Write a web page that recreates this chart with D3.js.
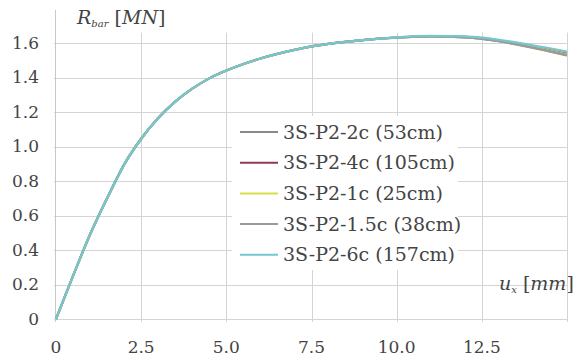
<!DOCTYPE html>
<html>
<head>
<meta charset="utf-8">
<script src="https://cdn.jsdelivr.net/npm/d3@7"></script>
<style>
  body { margin: 0; background: #fff; }
</style>
</head>
<body>
<div id="chart"></div>
<script>
// displacement u_x [mm]
var ux = [0, 0.5, 1.0, 1.5, 2.0, 2.5, 3.0, 3.5, 4.0, 4.5, 5.0, 6.0, 7.0, 7.5, 8.0, 9.0, 10.0, 11.0, 12.0, 12.5, 13.0, 14.0, 15.0];

// R_bar [MN] per model
var r2c  = [0, 0.25, 0.49, 0.70, 0.895, 1.045, 1.165, 1.26, 1.335, 1.395, 1.44, 1.51, 1.56, 1.58, 1.595, 1.617, 1.631, 1.638, 1.633, 1.624, 1.610, 1.572, 1.528];
var r4c  = [0, 0.25, 0.49, 0.70, 0.895, 1.045, 1.165, 1.26, 1.335, 1.395, 1.44, 1.51, 1.56, 1.58, 1.595, 1.617, 1.632, 1.639, 1.635, 1.627, 1.614, 1.578, 1.538];
var r1c  = [0, 0.25, 0.49, 0.70, 0.895, 1.045, 1.165, 1.26, 1.335, 1.395, 1.44, 1.51, 1.56, 1.58, 1.595, 1.617, 1.632, 1.639, 1.634, 1.626, 1.612, 1.576, 1.534];
var r15c = [0, 0.25, 0.49, 0.70, 0.895, 1.045, 1.165, 1.26, 1.335, 1.395, 1.44, 1.51, 1.56, 1.58, 1.595, 1.617, 1.631, 1.638, 1.633, 1.625, 1.611, 1.574, 1.531];
var r6c  = [0, 0.25, 0.49, 0.70, 0.895, 1.045, 1.165, 1.26, 1.335, 1.395, 1.44, 1.51, 1.56, 1.58, 1.595, 1.617, 1.633, 1.641, 1.638, 1.631, 1.619, 1.587, 1.550];

var names  = ["3S-P2-2c (53cm)", "3S-P2-4c (105cm)", "3S-P2-1c (25cm)", "3S-P2-1.5c (38cm)", "3S-P2-6c (157cm)"];
var colors = ["#8a8a8a", "#8c3b52", "#d6e04c", "#9a9a9a", "#74c6cf"];
var values = [r2c, r4c, r1c, r15c, r6c];

var xTicks = [0, 2.5, 5.0, 7.5, 10.0, 12.5, 15.0];
var yTicks = [0, 0.2, 0.4, 0.6, 0.8, 1.0, 1.2, 1.4, 1.6];

var serif = "'DejaVu Serif', 'Liberation Serif', serif";

var width = 576, height = 358;
var margin = { top: 10, right: 9, bottom: 39, left: 56 };

var svg = d3.select("#chart").append("svg")
  .attr("width", width)
  .attr("height", height)
  .style("font-family", serif);

var xScale = d3.scaleLinear().domain([0, 15]).range([margin.left, width - margin.right]);
var yScale = d3.scaleLinear().domain([0, 1.6]).range([height - margin.bottom, 43]);

var grid = svg.append("g").attr("stroke", "#d4d4d4").attr("stroke-width", 1);

// horizontal grid
grid.selectAll(".hg")
  .data(yTicks)
  .enter()
  .append("line")
  .attr("x1", xScale(0) - 2)
  .attr("x2", xScale(15))
  .attr("y1", function(d) { return Math.round(yScale(d)) + 0.5; })
  .attr("y2", function(d) { return Math.round(yScale(d)) + 0.5; });

// vertical grid
grid.selectAll(".vg")
  .data(xTicks.slice(1))
  .enter()
  .append("line")
  .attr("x1", function(d) { return Math.round(xScale(d)) + 0.5; })
  .attr("x2", function(d) { return Math.round(xScale(d)) + 0.5; })
  .attr("y1", yScale(1.66))
  .attr("y2", yScale(0) + 3);

// y axis line
svg.append("line")
  .attr("x1", Math.round(xScale(0)) - 0.5)
  .attr("x2", Math.round(xScale(0)) - 0.5)
  .attr("y1", margin.top)
  .attr("y2", yScale(0) + 3)
  .attr("stroke", "#c8c8c8");

// tick labels
svg.selectAll(".ylab")
  .data(yTicks)
  .enter()
  .append("text")
  .attr("x", 39)
  .attr("y", function(d) { return yScale(d); })
  .attr("dy", "0.35em")
  .attr("text-anchor", "end")
  .attr("fill", "#444")
  .style("font-family", serif)
  .style("font-size", "17px")
  .text(function(d) { return d === 0 ? "0" : d3.format(".1f")(d); });

svg.selectAll(".xlab")
  .data(xTicks.slice(0, 6))
  .enter()
  .append("text")
  .attr("x", function(d) { return xScale(d); })
  .attr("y", 353)
  .attr("text-anchor", "middle")
  .attr("fill", "#444")
  .style("font-family", serif)
  .style("font-size", "17px")
  .text(function(d) { return d === 0 ? "0" : d3.format(".1f")(d); });

// axis titles
var yt = svg.append("text")
  .attr("x", 77)
  .attr("y", 24)
  .attr("fill", "#444")
  .style("font-family", serif)
  .style("font-size", "19px")
  .style("font-style", "italic");
yt.append("tspan").text("R");
yt.append("tspan").attr("dy", 3).style("font-size", "10px").text("bar");
yt.append("tspan").attr("dy", -3).style("font-style", "normal").text(" [");
yt.append("tspan").text("MN");
yt.append("tspan").style("font-style", "normal").text("]");

var xt = svg.append("text")
  .attr("x", 499)
  .attr("y", 290)
  .attr("fill", "#444")
  .style("font-family", serif)
  .style("font-size", "19px")
  .style("font-style", "italic");
xt.append("tspan").text("u");
xt.append("tspan").attr("dy", 3).style("font-size", "10px").text("x");
xt.append("tspan").attr("dy", -3).style("font-style", "normal").text(" [");
xt.append("tspan").text("mm");
xt.append("tspan").style("font-style", "normal").text("]");

// legend box (white, covers grid)
var legendX = 232, legendTop = 116, rowH = 30.7;
svg.append("rect")
  .attr("x", legendX)
  .attr("y", legendTop)
  .attr("width", 226)
  .attr("height", 154)
  .attr("fill", "#fff");

// curves
var line = d3.line()
  .x(function(d, i) { return xScale(ux[i]); })
  .y(function(d) { return yScale(d); })
  .curve(d3.curveMonotoneX);

svg.selectAll(".curve")
  .data(values)
  .enter()
  .append("path")
  .attr("class", "curve")
  .attr("d", line)
  .attr("fill", "none")
  .attr("stroke", function(d, i) { return colors[i]; })
  .attr("stroke-width", 2.2);

// legend entries
var leg = svg.selectAll(".leg")
  .data(names)
  .enter()
  .append("g")
  .attr("transform", function(d, i) {
    return "translate(0," + (132 + i * rowH) + ")";
  });

leg.append("line")
  .attr("x1", 240)
  .attr("x2", 278)
  .attr("y1", 0)
  .attr("y2", 0)
  .attr("stroke", function(d, i) { return colors[i]; })
  .attr("stroke-width", 2);

leg.append("text")
  .attr("x", 283)
  .attr("y", 0)
  .attr("dy", "0.35em")
  .attr("fill", "#444")
  .style("font-family", serif)
  .style("font-size", "19px")
  .text(function(d) { return d; });
</script>
</body>
</html>
